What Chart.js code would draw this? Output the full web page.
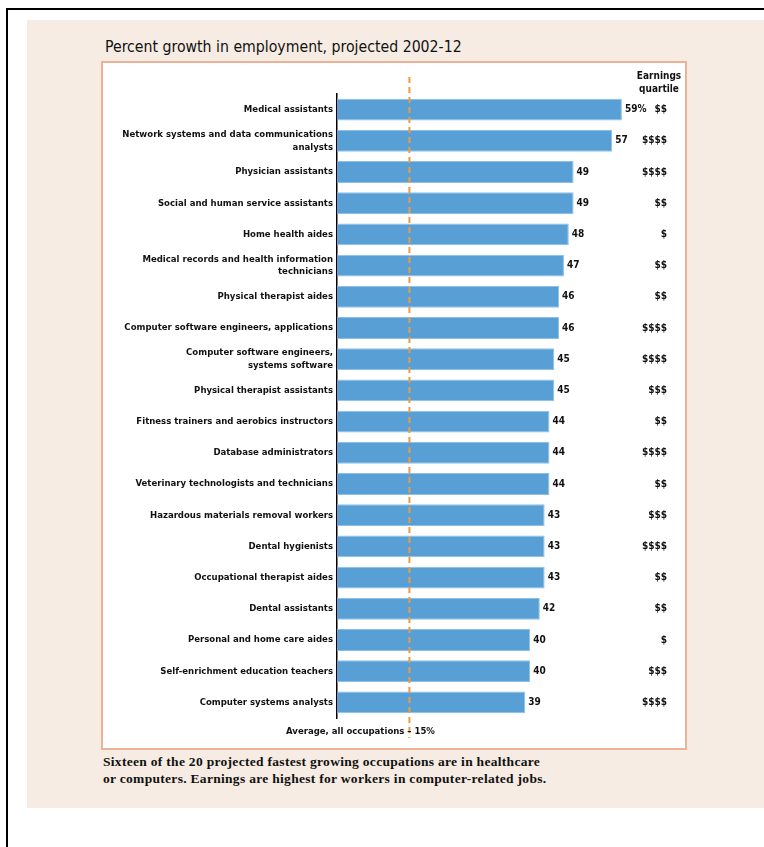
<!DOCTYPE html>
<html>
<head>
<meta charset="utf-8">
<script src="https://cdn.jsdelivr.net/npm/chart.js@4/dist/chart.umd.min.js"></script>
<style>
  body { margin: 0; width: 764px; height: 847px; background: #fff; position: relative; overflow: hidden; }
  #frameTop { position: absolute; left: 6px; top: 8px; width: 758px; height: 2px; background: #000; }
  #frameLeft { position: absolute; left: 6px; top: 8px; width: 2px; height: 839px; background: #000; }
  #beige { position: absolute; left: 27px; top: 20px; width: 737px; height: 788px; background: #f6ece3; }
  #panel { position: absolute; left: 101px; top: 61px; width: 582px; height: 685px; background: #fff; border: 2px solid #eab396; }
  #title { position: absolute; left: 105px; top: 37px; font: 15.7px "Liberation Sans Narrow", "DejaVu Sans Condensed", sans-serif; color: #111; white-space: nowrap; }
  #caption { position: absolute; left: 103px; top: 753px; font: bold 13.5px "Liberation Serif", "DejaVu Serif", serif; letter-spacing: 0.3px; line-height: 17px; color: #111; white-space: nowrap; }
  #wrap { position: absolute; left: 0; top: 0; width: 764px; height: 847px; }
</style>
</head>
<body>
<div id="frameTop"></div>
<div id="frameLeft"></div>
<div id="beige"></div>
<div id="panel"></div>
<div id="title">Percent growth in employment, projected 2002-12</div>
<div id="caption">Sixteen of the 20 projected fastest growing occupations are in healthcare<br>or computers. Earnings are highest for workers in computer-related jobs.</div>
<div id="wrap"><canvas id="chart"></canvas></div>
<script>
var occupations = [
  'Medical assistants',
  ['Network systems and data communications', 'analysts'],
  'Physician assistants',
  'Social and human service assistants',
  'Home health aides',
  ['Medical records and health information', 'technicians'],
  'Physical therapist aides',
  'Computer software engineers, applications',
  ['Computer software engineers,', 'systems software'],
  'Physical therapist assistants',
  'Fitness trainers and aerobics instructors',
  'Database administrators',
  'Veterinary technologists and technicians',
  'Hazardous materials removal workers',
  'Dental hygienists',
  'Occupational therapist aides',
  'Dental assistants',
  'Personal and home care aides',
  'Self-enrichment education teachers',
  'Computer systems analysts'
];
var growth = [59, 57, 49, 49, 48, 47, 46, 46, 45, 45, 44, 44, 44, 43, 43, 43, 42, 40, 40, 39];
var earnings = ['$$', '$$$$', '$$$$', '$$', '$', '$$', '$$', '$$$$', '$$$$', '$$$', '$$', '$$$$', '$$', '$$$', '$$$$', '$$', '$$', '$', '$$$', '$$$$'];
var averageGrowth = 15;

var narrow = '"Liberation Sans Narrow", "DejaVu Sans Condensed", sans-serif';

var extras = {
  id: 'extras',
  afterDatasetsDraw: function (chart) {
    var ctx = chart.ctx;
    var x = chart.scales.x;
    var area = chart.chartArea;
    ctx.save();

    // average line
    var ax = x.getPixelForValue(averageGrowth);
    ctx.strokeStyle = '#f09a3e';
    ctx.lineWidth = 2;
    ctx.setLineDash([6, 4]);
    ctx.beginPath();
    ctx.moveTo(ax, area.top - 17);
    ctx.lineTo(ax, area.bottom + 20);
    ctx.stroke();
    ctx.setLineDash([]);

    ctx.fillStyle = '#111';
    ctx.font = 'bold 9.5px ' + narrow;
    ctx.textBaseline = 'middle';
    var ty = area.bottom + 14;
    ctx.textAlign = 'right';
    ctx.fillText('Average, all occupations', ax - 5, ty);
    ctx.textAlign = 'center';
    ctx.fillText('\u2013', ax, ty);
    ctx.textAlign = 'left';
    ctx.fillText(averageGrowth + '%', ax + 5, ty);

    // value labels and earnings quartile
    ctx.font = 'bold 10px ' + narrow;
    var meta = chart.getDatasetMeta(0);
    var ex = area.right - 8;
    growth.forEach(function (v, i) {
      var bar = meta.data[i];
      ctx.textAlign = 'left';
      ctx.fillText(i === 0 ? v + '%' : String(v), bar.x + 3, bar.y);
      ctx.textAlign = 'right';
      ctx.fillText(earnings[i], ex, bar.y);
    });

    ctx.textAlign = 'center';
    ctx.fillText('Earnings', ex - 8, area.top - 18);
    ctx.fillText('quartile', ex - 8, area.top - 5);
    ctx.restore();
  }
};

new Chart(document.getElementById('chart'), {
  type: 'bar',
  data: {
    labels: occupations,
    datasets: [{
      data: growth,
      backgroundColor: '#589fd6',
      borderColor: '#8cc0e8',
      borderWidth: 1,
      barPercentage: 0.7,
      categoryPercentage: 1
    }]
  },
  options: {
    indexAxis: 'y',
    responsive: true,
    maintainAspectRatio: false,
    animation: false,
    events: [],
    layout: { padding: { left: 100, right: 89, top: 94, bottom: 129 } },
    plugins: { legend: { display: false }, tooltip: { enabled: false } },
    scales: {
      x: { display: false, min: 0, max: 70 },
      y: {
        grid: { display: false, drawTicks: false, tickLength: 0 },
        border: { display: true, color: '#000', width: 1.5 },
        afterFit: function (scale) { scale.width = 237; },
        ticks: {
          color: '#111',
          padding: 4,
          autoSkip: false,
          font: { family: narrow, size: 9.5, weight: 'bold', lineHeight: 1.35 }
        }
      }
    }
  },
  plugins: [extras]
});
</script>
</body>
</html>
